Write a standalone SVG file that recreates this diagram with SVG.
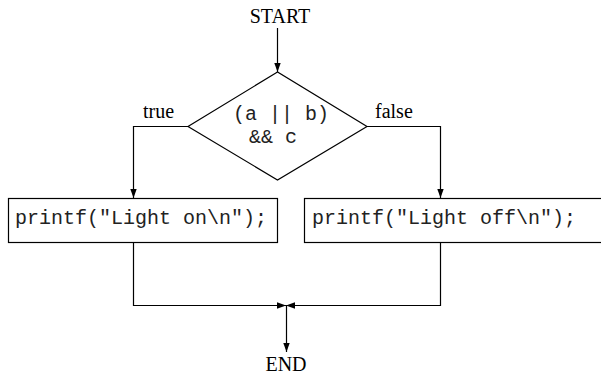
<svg xmlns="http://www.w3.org/2000/svg" width="601" height="376" viewBox="0 0 601 376">
<defs>
<style>
.ln{fill:none;stroke:#000;stroke-width:1.2}
.bx{fill:#fff;stroke:#000;stroke-width:1.2}
.lbl{font-family:"Liberation Serif","Times New Roman",serif;font-size:20px;fill:#000}
.code{font-family:"Liberation Mono","Courier New",monospace;font-size:20px;fill:#222}
</style>
<marker id="ah" markerUnits="userSpaceOnUse" markerWidth="10" markerHeight="8" refX="9" refY="4" orient="auto">
<path d="M0,0.8 L9,4 L0,7.2 Z" fill="#000"/>
</marker>
</defs>
<rect width="601" height="376" fill="#fff"/>
<g id="connectors">
<path class="ln" d="M277.5,28 V72" marker-end="url(#ah)"/>
<path class="ln" d="M188,126.5 H133.5 V198" marker-end="url(#ah)"/>
<path class="ln" d="M367,126.5 H440.5 V198" marker-end="url(#ah)"/>
<path class="ln" d="M133.5,243 V305.5 H286" marker-end="url(#ah)"/>
<path class="ln" d="M440.5,243 V305.5 H286" marker-end="url(#ah)"/>
<path class="ln" d="M286.5,305.5 V352" marker-end="url(#ah)"/>
<text class="lbl" x="143" y="118">true</text>
<text class="lbl" x="375" y="118">false</text>
</g>
<g id="start"><text class="lbl" x="280" y="23" text-anchor="middle">START</text></g>
<g id="decision">
<polygon class="bx" points="277.5,72 188,126.5 277.5,180 367,126.5"/>
<text class="code" x="233" y="120">(a || b)</text>
<text class="code" x="249" y="143">&amp;&amp; c</text>
</g>
<g id="light-on">
<rect class="bx" x="8.5" y="198.5" width="269" height="44"/>
<text class="code" x="15" y="224">printf("Light on\n");</text>
</g>
<g id="light-off">
<rect class="bx" x="304.5" y="198.5" width="310" height="44"/>
<text class="code" x="312" y="224">printf("Light off\n");</text>
</g>
<g id="end"><text class="lbl" x="286" y="371" text-anchor="middle">END</text></g>
</svg>
